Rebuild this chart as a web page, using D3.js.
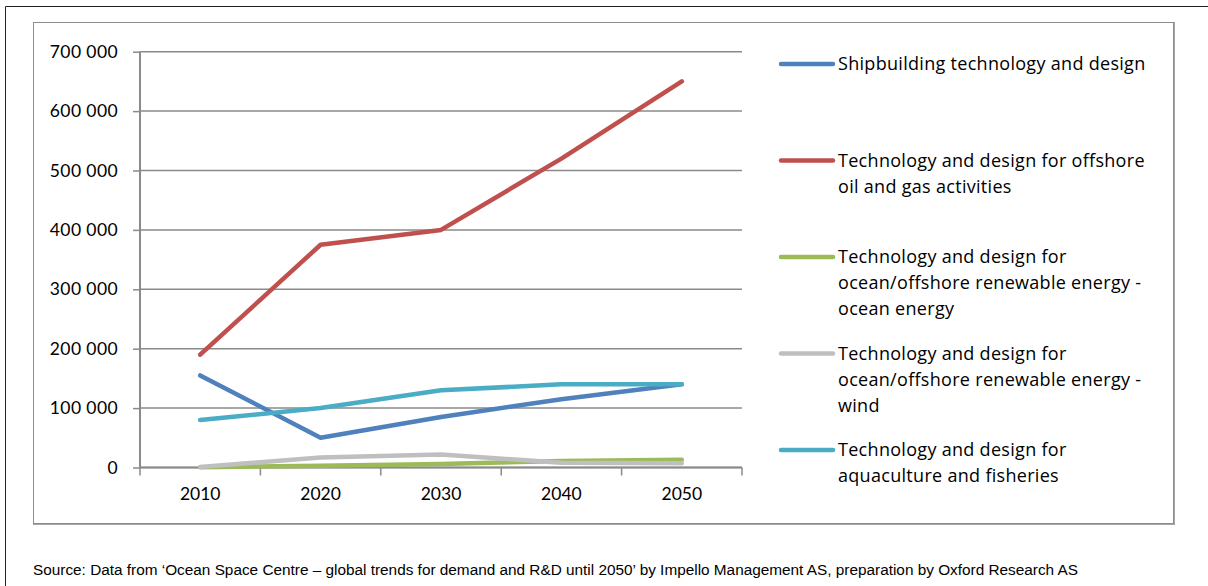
<!DOCTYPE html>
<html>
<head>
<meta charset="utf-8">
<script src="https://cdn.jsdelivr.net/npm/d3@7"></script>
<style>
  html, body { margin: 0; padding: 0; background: #fff; }
  svg { display: block; }
</style>
</head>
<body>
<svg id="chart" width="1208" height="586"></svg>
<script>
// Years on the category axis
const years = ["2010", "2020", "2030", "2040", "2050"];

// Series names (legend order = drawing order)
const seriesNames = [
  "Shipbuilding technology and design",
  "Technology and design for offshore oil and gas activities",
  "Technology and design for ocean/offshore renewable energy - ocean energy",
  "Technology and design for ocean/offshore renewable energy - wind",
  "Technology and design for aquaculture and fisheries"
];

// Legend text split into lines
const legendLines = [
  ["Shipbuilding technology and design"],
  ["Technology and design for offshore", "oil and gas activities"],
  ["Technology and design for", "ocean/offshore renewable energy -", "ocean energy"],
  ["Technology and design for", "ocean/offshore renewable energy -", "wind"],
  ["Technology and design for", "aquaculture and fisheries"]
];

// Values per series
const shipbuilding = [155000, 50000, 85000, 115000, 140000];
const offshoreOilGas = [190000, 375000, 400000, 520000, 650000];
const oceanEnergy = [500, 3000, 6000, 11000, 13000];
const wind = [1000, 17000, 22000, 8000, 7000];
const aquaculture = [80000, 100000, 130000, 140000, 140000];

const seriesValues = [shipbuilding, offshoreOilGas, oceanEnergy, wind, aquaculture];
const seriesColors = ["#4F81BD", "#C0504D", "#9BBB59", "#BFBFBF", "#4BACC6"];

// Y axis ticks
const yTicks = [0, 100000, 200000, 300000, 400000, 500000, 600000, 700000];

const svg = d3.select("#chart");
const font = "Lato, 'Open Sans', sans-serif";
const legendFont = "'Open Sans', Lato, sans-serif";

// Outer page frame (top and left rules)
svg.append("line").attr("x1", 5.5).attr("x2", 1208).attr("y1", 6.5).attr("y2", 6.5)
  .attr("stroke", "#222").attr("stroke-width", 1);
svg.append("line").attr("x1", 5.5).attr("x2", 5.5).attr("y1", 6.5).attr("y2", 586)
  .attr("stroke", "#222").attr("stroke-width", 1);

// Chart area box with a light shadow edge
svg.append("rect").attr("x", 34).attr("y", 23).attr("width", 1140).attr("height", 501)
  .attr("fill", "none").attr("stroke", "#a6a6a6").attr("stroke-width", 2);
svg.append("rect").attr("x", 33.5).attr("y", 22.5).attr("width", 1140).attr("height", 501)
  .attr("fill", "#fff").attr("stroke", "#8c8c8c").attr("stroke-width", 1);

const plot = { left: 140, right: 742, top: 51.7, bottom: 467.5 };

const x = d3.scaleBand().domain(years).range([plot.left, plot.right]).padding(0);
const y = d3.scaleLinear().domain([0, 700000]).range([plot.bottom, plot.top]);

const fmt = v => d3.format(",")(v).replace(/,/g, " ");

// Gridlines
svg.append("g")
  .selectAll("line").data(yTicks).join("line")
  .attr("x1", plot.left).attr("x2", plot.right)
  .attr("y1", d => y(d)).attr("y2", d => y(d))
  .attr("stroke", "#8a8a8a").attr("stroke-width", 1.5);

// Y axis
const yAxis = svg.append("g")
  .attr("transform", `translate(${plot.left},0)`)
  .call(d3.axisLeft(y).tickValues(yTicks).tickFormat(fmt).tickSize(7).tickPadding(15));
yAxis.select(".domain").attr("stroke", "#8a8a8a").attr("stroke-width", 2)
  .attr("d", `M0,${plot.top}V${plot.bottom}`);
yAxis.selectAll(".tick line").attr("stroke", "#8a8a8a").attr("stroke-width", 1.5);
yAxis.selectAll(".tick text").attr("font-family", font).attr("font-size", 17.5)
  .attr("letter-spacing", 0.4).attr("fill", "#000");

// X axis: ticks on band boundaries
const xAxis = svg.append("g")
  .attr("transform", `translate(0,${plot.bottom})`)
  .call(d3.axisBottom(x).tickSize(0).tickPadding(20));
xAxis.select(".domain").attr("stroke", "#8a8a8a").attr("stroke-width", 2)
  .attr("d", `M${plot.left},0H${plot.right}`);
xAxis.selectAll(".tick text").attr("font-family", font).attr("font-size", 17.5).attr("fill", "#000");
const bounds = years.map(d => x(d)).concat([x(years[years.length - 1]) + x.bandwidth()]);
xAxis.selectAll(".bound").data(bounds).join("line")
  .attr("class", "bound")
  .attr("x1", d => d).attr("x2", d => d).attr("y1", 0).attr("y2", 8)
  .attr("stroke", "#8a8a8a").attr("stroke-width", 1.5);

// Series lines
const line = d3.line()
  .x((d, i) => x(years[i]) + x.bandwidth() / 2)
  .y(d => y(d));

svg.append("g").selectAll("path").data(seriesValues).join("path")
  .attr("d", d => line(d))
  .attr("fill", "none")
  .attr("stroke", (d, i) => seriesColors[i])
  .attr("stroke-width", 4.5)
  .attr("stroke-linejoin", "round")
  .attr("stroke-linecap", "round");

// Legend
const legendTop = [64, 160.5, 257, 353.5, 450];
const legend = svg.append("g");
seriesNames.forEach((name, i) => {
  const g = legend.append("g").attr("transform", `translate(0,${legendTop[i]})`);
  g.append("line").attr("x1", 781).attr("x2", 833).attr("y1", 0).attr("y2", 0)
    .attr("stroke", seriesColors[i]).attr("stroke-width", 4.5).attr("stroke-linecap", "round");
  const t = g.append("text").attr("x", 838).attr("y", 6)
    .attr("font-family", legendFont).attr("font-size", 18).attr("letter-spacing", 0.3)
    .attr("fill", "#000");
  legendLines[i].forEach((ln, j) => {
    t.append("tspan").attr("x", 838).attr("dy", j === 0 ? 0 : 26).text(ln);
  });
});

// Source note
svg.append("text")
  .attr("x", 33).attr("y", 575)
  .attr("font-family", "'Liberation Sans Narrow', 'Arial Narrow', 'Liberation Sans', sans-serif")
  .attr("font-size", 15.5)
  .attr("textLength", 1045)
  .attr("lengthAdjust", "spacingAndGlyphs")
  .attr("fill", "#000")
  .text("Source: Data from \u2018Ocean Space Centre \u2013 global trends for demand and R&D until 2050\u2019 by Impello Management AS, preparation by Oxford Research AS");
</script>
</body>
</html>
